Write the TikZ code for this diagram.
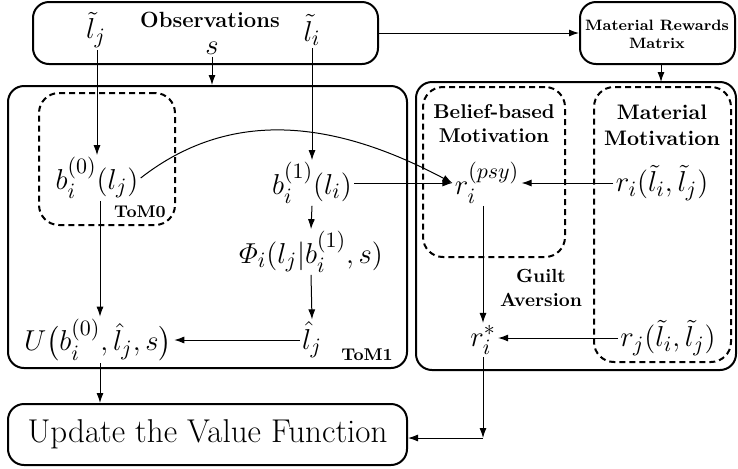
\documentclass[tikz,border=0pt]{standalone}
\usepackage{amsmath}
\usetikzlibrary{arrows.meta}

\tikzset{
    box/.style={draw, line width=1pt, rounded corners=8pt, inner sep=0pt},
    dashbox/.style={draw, line width=1pt, rounded corners=10pt, inner sep=0pt, dash pattern=on 3pt off 2pt},
    eq/.style={font=\fontsize{15}{18}\selectfont, inner sep=1pt},
    head/.style={font=\bfseries\fontsize{10}{12}\selectfont, align=center, inner sep=0pt},
    link/.style={-{Latex[length=5pt,width=3.5pt]}, line width=0.5pt},
}

\begin{document}
\begin{tikzpicture}[x=0.5pt, y=-0.5pt]
    \useasboundingbox (0,0) rectangle (738,468);

    \node[box, minimum width=172.5pt, minimum height=31pt] (obs) at (205.5,33) {};
    \node[box, minimum width=77.5pt, minimum height=31pt] (mrm) at (657.5,33) {};
    \node[box, minimum width=199.5pt, minimum height=141pt] (tom1) at (207.5,227) {};
    \node[dashbox, minimum width=68pt, minimum height=66pt] (tom0) at (107,159) {};
    \node[box, minimum width=160pt, minimum height=144pt] (motiv) at (576,226) {};
    \node[dashbox, minimum width=71pt, minimum height=85pt] (belief) at (494,172) {};
    \node[dashbox, minimum width=68.5pt, minimum height=137.5pt] (matmot) at (662.5,224.5) {};
    \node[box, minimum width=199.5pt, minimum height=30.5pt] (upd) at (207.5,434.5)
        {\fontsize{16.5}{20}\selectfont Update the Value Function};

    \node[head, font=\bfseries\fontsize{11}{13}\selectfont] (obstext) at (210,20) {Observations};
    \node[eq] (ljt) at (96,30) {$\tilde{l}_j$};
    \node[eq] (lit) at (312,30) {$\tilde{l}_i$};
    \node[eq] (st) at (212,48) {$s$};
    \node[head, font=\bfseries\fontsize{7.5}{9}\selectfont] (mrmtext) at (657,34) {Material Rewards\\Matrix};

    \node[eq] (b0) at (97,178) {$b_i^{(0)}(l_j)$};
    \node[head, font=\bfseries\fontsize{8.5}{10}\selectfont] (tom0text) at (140,212) {ToM0};
    \node[eq] (b1) at (312,183) {$b_i^{(1)}(l_i)$};
    \node[eq] (phi) at (311,252) {$\varPhi_i(l_j|b_i^{(1)},s)$};
    \node[eq] (lhat) at (312,340) {$\hat{l}_j$};
    \node[head, font=\bfseries\fontsize{8.5}{10}\selectfont] (tom1text) at (367,355) {ToM1};
    \node[eq] (util) at (98,340) {$U\big(b_i^{(0)},\hat{l}_j,s\big)$};

    \node[head] (belieftext) at (494,124) {Belief-based\\Motivation};
    \node[head, font=\bfseries\fontsize{10.5}{13}\selectfont] (mattext) at (662,125) {Material\\Motivation};
    \node[eq] (rpsy) at (487,183) {$r_i^{(psy)}$};
    \node[eq] (ri) at (662,183) {$r_i(\tilde{l}_i,\tilde{l}_j)$};
    \node[head, font=\bfseries\fontsize{9.5}{12}\selectfont] (guilt) at (541,288) {Guilt\\Aversion};
    \node[eq] (rstar) at (483,340) {$r_i^{*}$};
    \node[eq] (rj) at (668,338) {$r_j(\tilde{l}_i,\tilde{l}_j)$};
    \coordinate (corner) at (483,438);

    \draw[link] (ljt.south -| b0) -- (b0.north);
    \draw[link] (lit.south) -- (b1.north);
    \draw[link] (st.south) -- (st.south |- tom1.north);
    \draw[link] (obs.east) -- (mrm.west);
    \draw[link] (661,64) -- (661,82);
    \draw[link] (b0.east) to[out=38, in=152] (rpsy.west);
    \draw[link] (b1.east) -- (rpsy.west |- b1.east);
    \draw[link] (ri.west) -- (rpsy.east |- ri.west);
    \draw[link] (b1.south) -- (phi.north);
    \draw[link] (phi.south) -- (lhat.north);
    \draw[link] (lhat.west) -- (util.east |- lhat.west);
    \draw[link] (b0.south -| 100,0) -- (util.north -| 100,0);
    \draw[link] (util.south -| 100,0) -- (upd.north -| 100,0);
    \draw[link] (rpsy.south -| rstar) -- (rstar.north);
    \draw[link] (rj.west) -- (rstar.east |- rj.west);
    \draw[link] (rstar.south) -- (corner);
    \draw[link] (corner) -- (upd.east |- corner);
\end{tikzpicture}
\end{document}
